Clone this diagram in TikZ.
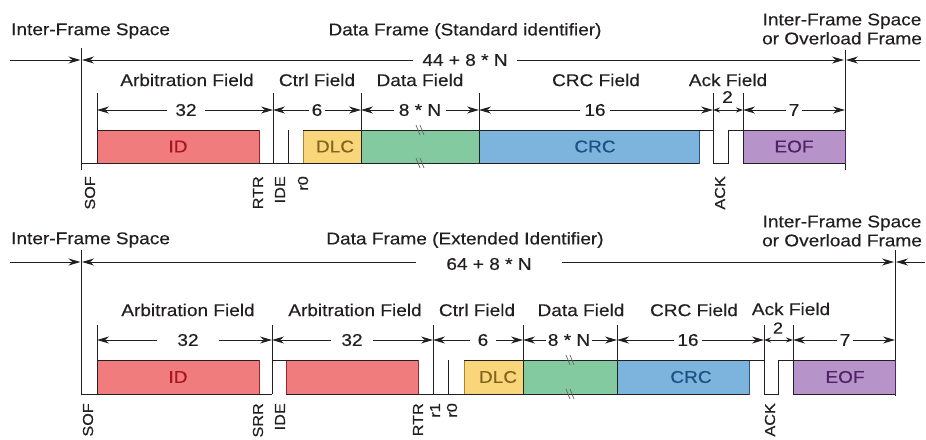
\documentclass[tikz,border=0pt]{standalone}
\usepackage{fontspec}
\setmainfont{Liberation Sans}[FakeStretch=1.12,FakeBold=0.35]
\usetikzlibrary{arrows.meta}
\definecolor{idfill}{RGB}{240,124,126}
\definecolor{idline}{RGB}{150,40,50}
\definecolor{idtext}{RGB}{170,20,30}
\definecolor{dlcfill}{RGB}{250,214,122}
\definecolor{dlcline}{RGB}{170,130,50}
\definecolor{dlctext}{RGB}{130,100,30}
\definecolor{datafill}{RGB}{132,202,160}
\definecolor{dataline}{RGB}{40,110,65}
\definecolor{crcfill}{RGB}{124,180,222}
\definecolor{crcline}{RGB}{40,85,135}
\definecolor{crctext}{RGB}{30,80,130}
\definecolor{eoffill}{RGB}{182,148,202}
\definecolor{eofline}{RGB}{80,35,100}
\definecolor{eoftext}{RGB}{80,35,100}
\definecolor{ink}{RGB}{35,31,32}
\begin{document}
\begin{tikzpicture}[x=1pt,y=-1pt,
  >={Stealth[length=12pt,width=7pt]},
  ln/.style={line width=1pt, draw=ink},
  dim/.style={ln, <->},
  dims/.style={ln, {Stealth[length=7pt,width=5pt]}-{Stealth[length=7pt,width=5pt]}},
  arr/.style={ln, ->},
  lab/.style={font=\fontsize{17}{19}\selectfont, text=ink, inner sep=0pt},
  num/.style={lab, fill=white, inner xsep=4pt, inner ysep=1pt},
  bit/.style={font=\fontsize{14.5}{16}\selectfont, text=ink, rotate=90, anchor=east, inner sep=0pt},
  fbox/.style={anchor=north west, inner sep=0pt, outer sep=0pt, line width=1pt},
  brk/.style={line width=0.7pt, draw=black!60}]
\useasboundingbox (0,0) rectangle (926,439);

% ================= TOP: standard frame =================
\node[lab, anchor=west] (ifs1) at (11,31) {Inter-Frame Space};
\node[lab] (df1) at (465,31) {Data Frame (Standard identifier)};
\node[lab, align=center] (ifo1) at (842,29) {Inter-Frame Space\\or Overload Frame};

% frame arrows
\coordinate (FL0) at (10,60);  \coordinate (FL1) at (80.5,60);
\coordinate (FM0) at (82,60);  \coordinate (FM1) at (844,60);
\coordinate (FR0) at (920,60); \coordinate (FR1) at (846,60);
\draw[arr] (FL0) -- (FL1);
\draw[dim] (FM0) -- (FM1);
\draw[arr] (FR0) -- (FR1);
\node[num, inner xsep=9pt] (tot1) at (465,60) {44 + 8 * N};
\draw[ln] (81,48) -- (81,170);
\draw[ln] (845,50) -- (845,170);

% field labels
\node[lab] (af1) at (187,80) {Arbitration Field};
\node[lab] (cf1) at (317,80) {Ctrl Field};
\node[lab] (daf1) at (420,80) {Data Field};
\node[lab] (crf1) at (596,80) {CRC Field};
\node[lab] (akf1) at (728,80) {Ack Field};

% boxes
\node[fbox, fill=idfill, draw=idline, minimum width=162pt, minimum height=33pt] (id1) at (97,130) {};
\node[fbox, fill=dlcfill, draw=dlcline, minimum width=58pt, minimum height=33pt] (dlc1) at (303,130) {};
\node[fbox, fill=datafill, draw=dataline, minimum width=118pt, minimum height=33pt] (dat1) at (361,130) {};
\node[fbox, fill=crcfill, draw=crcline, minimum width=220pt, minimum height=33pt] (crc1) at (479,130) {};
\node[fbox, fill=eoffill, draw=eofline, minimum width=102pt, minimum height=33pt] (eof1) at (743,130) {};
\foreach \b in {id1,dlc1,dat1,crc1,eof1}{
  \draw[ln] (\b.north west) -- (\b.north east) (\b.south west) -- (\b.south east);}
\node[lab, text=idtext] (id1t) at (178,146.5) {ID};
\node[lab, text=dlctext] (dlc1t) at (335,146.5) {DLC};
\node[lab, text=crctext] (crc1t) at (595,146.5) {CRC};
\node[lab, text=eoftext] (eof1t) at (794,146.5) {EOF};

% signal lines and ticks
\draw[ln] (81,163) -- (id1.south west);
\draw[ln] (id1.south east) -- (dlc1.south west);
\draw[ln] (97,93) -- (97,163);
\draw[ln] (273,93) -- (273,163);
\draw[ln] (288,130) -- (288,163);
\draw[ln] (361,93) -- (361,163);
\draw[ln] (479,93) -- (479,163);
\draw[ln] (crc1.north east) -- (713,130);
\draw[ln] (713,93) -- (713,163) -- (728,163) -- (728,130) -- (743,130);
\draw[ln] (743,93) -- (743,163);

% break marks
\draw[brk] (416,125) -- (420,135) (420,125) -- (424,135);
\draw[brk] (416,158) -- (420,168) (420,158) -- (424,168);

% dimension arrows
\foreach \n/\x in {a/97,b/273,c/361,d/479,e/713,f/743,g/845}{\coordinate (T\n) at (\x,110);}
\draw[dim] (Ta) -- (Tb);
\draw[dim] (Tb) -- (Tc);
\draw[dim] (Tc) -- (Td);
\draw[dim] (Td) -- (Te);
\draw[dims] (Te) -- (Tf);
\draw[dim] (Tf) -- (Tg);
\node[num, inner xsep=8pt] (d32a) at (186,110) {32};
\node[num, inner xsep=3pt] (d6a) at (317,110) {6};
\node[num, inner xsep=5pt] (d8a) at (420,110) {8 * N};
\node[num, inner xsep=4pt] (d16a) at (595,110) {16};
\node[lab] (d2a) at (727.5,97) {2};
\node[num, inner xsep=3pt] (d7a) at (794,110) {7};

% bit labels
\node[bit] (sof1) at (90,176) {SOF};
\node[bit] (rtr1) at (258,176) {RTR};
\node[bit] (ide1) at (280,176) {IDE};
\node[bit] (r01) at (303,176) {r0};
\node[bit] (ack1) at (720,176) {ACK};

% ================= BOTTOM: extended frame =================
\node[lab, anchor=west] (ifs2) at (11,240) {Inter-Frame Space};
\node[lab] (df2) at (465,240) {Data Frame (Extended Identifier)};
\node[lab, align=center] (ifo2) at (842,231) {Inter-Frame Space\\or Overload Frame};

\coordinate (GL0) at (10,262);  \coordinate (GL1) at (80.5,262);
\coordinate (GM0) at (82,262);  \coordinate (GM1) at (894,262);
\coordinate (GR0) at (925,262); \coordinate (GR1) at (896,262);
\draw[arr] (GL0) -- (GL1);
\draw[dim] (GM0) -- (GM1);
\draw[arr] (GR0) -- (GR1);
\node[num, inner xsep=30pt] (tot2) at (489,264) {64 + 8 * N};
\draw[ln] (81,250) -- (81,394);
\draw[ln] (895,250) -- (895,396);

\node[lab] (af2) at (188,310) {Arbitration Field};
\node[lab] (af3) at (355,310) {Arbitration Field};
\node[lab] (cf2) at (477,310) {Ctrl Field};
\node[lab] (daf2) at (581,310) {Data Field};
\node[lab] (crf2) at (694,310) {CRC Field};
\node[lab] (akf2) at (791,309) {Ack Field};

\node[fbox, fill=idfill, draw=idline, minimum width=162pt, minimum height=34pt] (id2) at (97,360) {};
\node[fbox, fill=idfill, draw=idline, minimum width=132pt, minimum height=34pt] (id3) at (286,360) {};
\node[fbox, fill=dlcfill, draw=dlcline, minimum width=59pt, minimum height=34pt] (dlc2) at (464,360) {};
\node[fbox, fill=datafill, draw=dataline, minimum width=94pt, minimum height=34pt] (dat2) at (523,360) {};
\node[fbox, fill=crcfill, draw=crcline, minimum width=132pt, minimum height=34pt] (crc2) at (617,360) {};
\node[fbox, fill=eoffill, draw=eofline, minimum width=102pt, minimum height=34pt] (eof2) at (793,360) {};
\foreach \b in {id2,id3,dlc2,dat2,crc2,eof2}{
  \draw[ln] (\b.north west) -- (\b.north east) (\b.south west) -- (\b.south east);}
\node[lab, text=idtext] (id2t) at (178,377) {ID};
\node[lab, text=dlctext] (dlc2t) at (498,377) {DLC};
\node[lab, text=crctext] (crc2t) at (691,377) {CRC};
\node[lab, text=eoftext] (eof2t) at (845,377) {EOF};

\draw[ln] (81,394) -- (id2.south west);
\draw[ln] (id2.south east) -- (272,394);
\draw[ln] (97,325) -- (97,394);
\draw[ln] (272,325) -- (272,394);
\draw[ln] (272,360) -- (id3.north west);
\draw[ln] (id3.south east) -- (dlc2.south west);
\draw[ln] (433,325) -- (433,394);
\draw[ln] (448,360) -- (448,394);
\draw[ln] (523,325) -- (523,394);
\draw[ln] (617,325) -- (617,394);
\draw[ln] (crc2.north east) -- (764,360);
\draw[ln] (764,325) -- (764,394) -- (778,394) -- (778,360) -- (793,360);
\draw[ln] (793,325) -- (793,394);

\draw[brk] (566,355) -- (570,365) (570,355) -- (574,365);
\draw[brk] (566,389) -- (570,399) (570,389) -- (574,399);

\foreach \n/\x in {a/97,b/272,c/433,d/523,e/617,f/764,g/793,h/895}{\coordinate (B\n) at (\x,340);}
\draw[dim] (Ba) -- (Bb);
\draw[dim] (Bb) -- (Bc);
\draw[dim] (Bc) -- (Bd);
\draw[dim] (Bd) -- (Be);
\draw[dim] (Be) -- (Bf);
\draw[dims] (Bf) -- (Bg);
\draw[dim] (Bg) -- (Bh);
\node[num, inner xsep=20pt] (d32b) at (188,340) {32};
\node[num, inner xsep=10pt] (d32c) at (352,340) {32};
\node[num, inner xsep=8pt] (d6b) at (483,340) {6};
\node[num, inner xsep=2pt] (d8b) at (569,340) {8 * N};
\node[num, inner xsep=3pt] (d16b) at (688,340) {16};
\node[lab, font=\fontsize{16}{18}\selectfont] (d2b) at (778,328) {2};
\node[num, inner xsep=3pt] (d7b) at (845,340) {7};

\node[bit] (sof2) at (88,403) {SOF};
\node[bit] (srr2) at (258,403) {SRR};
\node[bit] (ide2) at (280,403) {IDE};
\node[bit] (rtr2) at (418,403) {RTR};
\node[bit] (r12) at (435,403) {r1};
\node[bit] (r02) at (452,403) {r0};
\node[bit] (ack2) at (770,403) {ACK};
\end{tikzpicture}
\end{document}
